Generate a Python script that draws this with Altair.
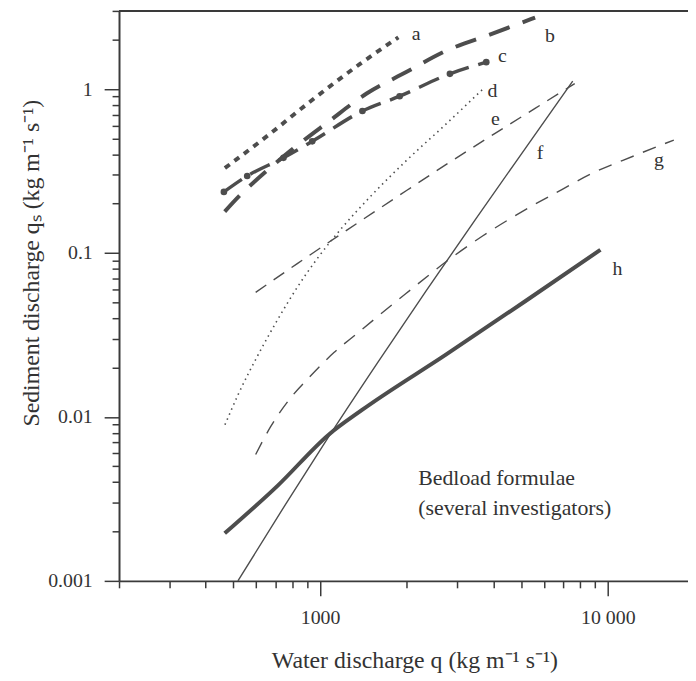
import altair as alt
import pandas as pd

# ---- data (water discharge q, sediment discharge qs) ----
a_q = [467, 657, 924, 1373, 1871]
a_qs = [0.33, 0.52, 0.84, 1.42, 2.07]
b_q = [466, 525, 604, 788, 1071, 1451, 1993, 2737, 3911, 5588]
b_qs = [0.179, 0.224, 0.282, 0.42, 0.634, 0.94, 1.27, 1.71, 2.16, 2.73]
c_q = [463, 558, 746, 939, 1403, 1890, 2826, 3780]
c_qs = [0.236, 0.295, 0.381, 0.48, 0.735, 0.905, 1.24, 1.46]
d_q = [467, 518, 607, 711, 833, 977, 1191, 1510, 1993, 2737, 3670]
d_qs = [0.00896, 0.0136, 0.0237, 0.0391, 0.0618, 0.0924, 0.1425, 0.225, 0.366, 0.611, 0.996]
e_q = [597, 833, 1239, 1842, 2737, 4070, 5588, 7674]
e_qs = [0.0576, 0.0862, 0.138, 0.219, 0.346, 0.539, 0.763, 1.08]
f_q = [518, 770, 1074, 1572, 2336, 3473, 5162, 7552]
f_qs = [0.001, 0.00306, 0.00763, 0.0210, 0.0588, 0.161, 0.434, 1.12]
g_q = [597, 673, 788, 924, 1117, 1341, 1609, 1993, 2893, 3670, 5286, 6922, 8780, 12350, 16960]
g_qs = [0.0059, 0.00872, 0.0130, 0.0177, 0.0247, 0.0322, 0.0419, 0.0568, 0.095, 0.127, 0.188, 0.244, 0.305, 0.392, 0.489]
h_q = [466, 711, 1071, 1395, 2737, 5162, 9430]
h_qs = [0.00195, 0.0038, 0.0078, 0.011, 0.024, 0.0508, 0.1047]

label_names = ["a", "b", "c", "d", "e", "f", "g", "h"]
label_q = [2158, 6293, 4301, 3974, 4070, 5813, 15050, 10795]
label_qs = [2.16, 2.10, 1.59, 0.98, 0.655, 0.408, 0.370, 0.0793]

note_lines = ["Bedload formulae", "(several investigators)"]
note_q = [2193, 2193]
note_qs = [0.00423, 0.00279]

x_ticks = [200, 300, 400, 500, 600, 700, 800, 900, 1000,
           2000, 3000, 4000, 5000, 6000, 7000, 8000, 9000, 10000]
y_ticks = [0.001, 0.002, 0.003, 0.004, 0.005, 0.006, 0.007, 0.008, 0.009,
           0.01, 0.02, 0.03, 0.04, 0.05, 0.06, 0.07, 0.08, 0.09,
           0.1, 0.2, 0.3, 0.4, 0.5, 0.6, 0.7, 0.8, 0.9, 1, 2, 3]

SERIF = "Liberation Serif"
LINE = "#4d4d4d"
AX = "#3a3a3a"
TXT = "#333333"
W, H = 574, 575

xscale = alt.Scale(type="log", domain=[200, 19000], nice=False)
yscale = alt.Scale(type="log", domain=[0.001, 3], nice=False)

xaxis = alt.Axis(
    values=x_ticks,
    labelExpr="datum.value == 1000 ? '1000' : (datum.value == 10000 ? '10 000' : '')",
    tickSize={"condition": {"test": "datum.value == 1000 || datum.value == 10000", "value": 15}, "value": 7},
    labelFont=SERIF, labelFontSize=20, labelColor=TXT, labelPadding=12,
    labelOverlap=False, labelFlush=False,
    domainColor=AX, domainWidth=2, tickColor=AX, tickWidth=1.5, grid=False,
    title="Water discharge q (kg m⁻¹ s⁻¹)", titleFont=SERIF, titleFontSize=24,
    titleFontWeight="normal", titleColor=TXT, titleX=298, titleY=80,
    titleAlign="center", titleBaseline="middle",
)
yaxis = alt.Axis(
    values=y_ticks,
    labelExpr="datum.value == 1 ? '1' : (datum.value == 0.1 ? '0.1' : (datum.value == 0.01 ? '0.01' : (datum.value == 0.001 ? '0.001' : '')))",
    tickSize={"condition": {"test": "datum.value == 1 || datum.value == 0.1 || datum.value == 0.01 || datum.value == 0.001", "value": 15}, "value": 7},
    labelFont=SERIF, labelFontSize=20, labelColor=TXT, labelPadding=12,
    labelOverlap=False, labelFlush=False,
    domainColor=AX, domainWidth=2, tickColor=AX, tickWidth=1.5, grid=False,
    title="Sediment discharge qₛ (kg m⁻¹ s⁻¹)", titleFont=SERIF, titleFontSize=24,
    titleFontWeight="normal", titleColor=TXT, titleX=-88, titleY=254, titleAngle=270,
    titleAlign="center", titleBaseline="middle",
)

X = alt.X("q:Q", scale=xscale, axis=xaxis)
Y = alt.Y("qs:Q", scale=yscale, axis=yaxis)


def curve(q, qs, width, dash=None):
    df = pd.DataFrame({"q": q, "qs": qs})
    kw = dict(color=LINE, strokeWidth=width, interpolate="monotone", clip=True)
    if dash:
        kw["strokeDash"] = dash
    return alt.Chart(df).mark_line(**kw).encode(x=X, y=Y)


layers = [
    curve(a_q, a_qs, 4, [6, 6]),
    curve(b_q, b_qs, 4, [22, 14]),
    curve(c_q, c_qs, 3.5, [22, 10]),
    alt.Chart(pd.DataFrame({"q": c_q, "qs": c_qs})).mark_point(
        filled=True, size=45, color=LINE, opacity=1).encode(x=X, y=Y),
    curve(d_q, d_qs, 1.6, [1.5, 4]),
    curve(e_q, e_qs, 1.4, [13, 9]),
    curve(f_q, f_qs, 1.4),
    curve(g_q, g_qs, 1.4, [14, 10]),
    curve(h_q, h_qs, 4),
    alt.Chart(pd.DataFrame({"q": label_q, "qs": label_qs, "t": label_names})).mark_text(
        font=SERIF, fontSize=20, color=TXT, align="center", baseline="middle").encode(
        x=X, y=Y, text="t:N"),
    alt.Chart(pd.DataFrame({"q": note_q, "qs": note_qs, "t": note_lines})).mark_text(
        font=SERIF, fontSize=22, color=TXT, align="left", baseline="middle").encode(
        x=X, y=Y, text="t:N"),
    alt.Chart(pd.DataFrame({"z": [0]})).mark_rule(color=AX, strokeWidth=2).encode(
        x=alt.value(0), x2=alt.value(W), y=alt.value(0)),
]

chart = alt.layer(*layers).properties(
    width=W, height=H,
    padding={"left": 112, "top": 0, "right": 0, "bottom": 90},
    autosize="none",
).configure_view(stroke=None)

chart.save("out.html", embed_options={"renderer": "svg", "actions": False})
